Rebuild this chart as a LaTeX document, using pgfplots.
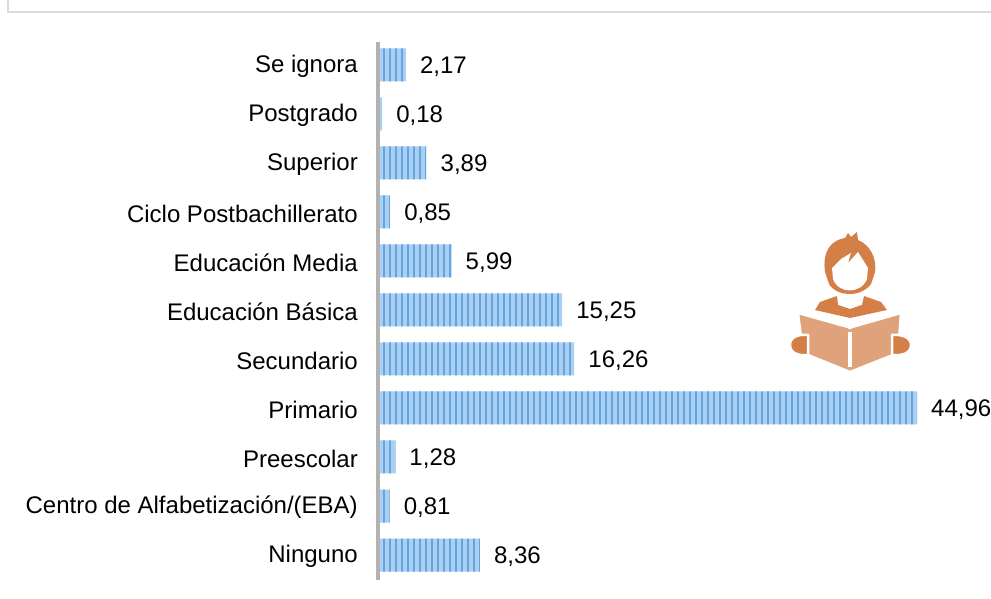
\documentclass[border=0pt]{standalone}
\usepackage{fontspec}
\setmainfont{Liberation Sans}
\usepackage{pgfplots}
\pgfplotsset{compat=1.18}
\usetikzlibrary{patterns.meta}
\definecolor{barbase}{HTML}{A9D0F3}
\definecolor{barstripe}{HTML}{66A5DE}
\definecolor{icondark}{HTML}{D47F45}
\definecolor{iconlight}{HTML}{E0A27A}
\pgfplotstableread{
pos val
0 8.36
1 0.81
2 1.28
3 44.96
4 16.26
5 15.25
6 5.99
7 0.85
8 3.89
9 0.18
10 2.17
}\datatable
\begin{document}
\begin{tikzpicture}[x=1pt,y=1pt]
\useasboundingbox (0,0) rectangle (991,599);
\fill[white] (0,0) rectangle (991,599);
\draw[draw=black!14,line width=2pt] (8,599) -- (8,587) -- (991,587);
\begin{axis}[
  at={(380pt,19pt)},anchor=south west,
  scale only axis,width=537pt,height=538pt,
  xmin=0,xmax=44.96,
  ymin=-0.51,ymax=10.469,
  axis line style={draw=none},
  axis x line=none,
  axis y line*=left,
  ytick={0,...,10},
  yticklabels={Ninguno,Centro de Alfabetización/(EBA),Preescolar,Primario,Secundario,Educación Básica,Educación Media,Ciclo Postbachillerato,Superior,Postgrado,Se ignora},
  major tick length=0pt,
  yticklabel style={font=\fontsize{24}{28}\selectfont,inner sep=0pt,xshift=-22pt,yshift=-1.5pt},
  clip=false,
  /pgf/number format/use comma,
  /pgf/number format/fixed,
  /pgf/number format/precision=2,
  /pgf/number format/fixed zerofill,
  /pgf/number format/assume math mode=true,
]
\addplot[xbar,bar width=33pt,draw=none,fill=barbase,
  postaction={pattern={Lines[angle=90,distance=6pt,line width=2.5pt]},pattern color=barstripe},
  nodes near coords,
  nodes near coords style={font=\fontsize{24}{28}\selectfont,black,anchor=west,inner sep=0pt,xshift=14pt,yshift=-2pt},
] table[x=val,y=pos]{\datatable};
\end{axis}
\draw[draw=black!30,line width=3.5pt] (378,19) -- (378,557);
% reader icon
\begin{scope}[yshift=599pt,y=-1pt]
\fill[icondark] (825,272) .. controls (822,250) and (832,240) .. (845,238)
  -- (848,233) -- (851,237) -- (857,232) -- (858,240)
  .. controls (870,245) and (877,258) .. (875,272)
  -- (871,284) .. controls (866,291) and (857,294) .. (850,294)
  .. controls (842,294) and (833,291) .. (829,284) -- cycle;
\fill[white] (832,268) -- (841,259) -- (851,253) -- (848,263) -- (858,252) -- (868,268)
  -- (867,279) .. controls (864,287) and (856,290.5) .. (850,290.5)
  .. controls (843,290.5) and (836,287) .. (833,279) -- cycle;
\fill[icondark] (815,310) -- (820,302) -- (837,296) -- (838,305) -- (850,309) -- (862,305) -- (864,296) -- (881,302) -- (887,310) -- (850,318) -- cycle;
\filldraw[fill=iconlight,draw=white,line width=2.5pt] (798,313) -- (848,327) -- (850,328) -- (852,327) -- (901,313) -- (898,353) -- (850,372) -- (803,353) -- cycle;
\fill[white] (848,332) rectangle (852,367);
\filldraw[fill=icondark,draw=white,line width=2.5pt] (790,345) .. controls (790,337) and (798,334) .. (808,335) -- (808,355) .. controls (798,356) and (790,353) .. (790,345) -- cycle;
\filldraw[fill=icondark,draw=white,line width=2.5pt] (892,335) .. controls (903,334) and (911,338) .. (911,345) .. controls (911,353) and (903,356) .. (892,355) -- cycle;
\end{scope}
\end{tikzpicture}
\end{document}
